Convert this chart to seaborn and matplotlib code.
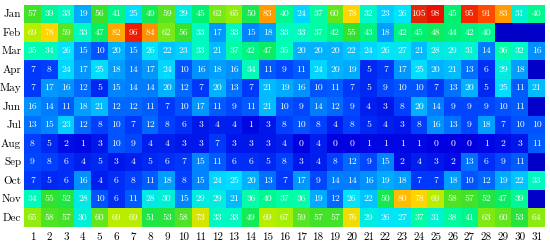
import numpy as np
import pandas as pd
import matplotlib
matplotlib.use("Agg")
import matplotlib.pyplot as plt
import seaborn as sns
from matplotlib.colors import LinearSegmentedColormap

months = ["Jan", "Feb", "Mar", "Apr", "May", "Jun", "Jul", "Aug", "Sep", "Oct", "Nov", "Dec"]
days = list(range(1, 32))
N = None  # missing day

jan = [57, 39, 33, 19, 56, 41, 25, 49, 59, 29, 45, 62, 65, 50, 83, 40, 24, 37, 60, 78, 32, 23, 26, 105, 98, 45, 95, 91, 83, 31, 40]
feb = [69, 78, 59, 33, 47, 82, 96, 84, 62, 56, 33, 17, 33, 15, 18, 33, 33, 37, 42, 55, 43, 18, 42, 45, 48, 44, 42, 40, N, N, N]
mar = [35, 34, 26, 15, 10, 20, 15, 26, 22, 23, 33, 21, 37, 42, 47, 35, 20, 20, 20, 22, 24, 26, 27, 21, 28, 29, 31, 14, 36, 32, 16]
apr = [7, 8, 24, 17, 25, 18, 14, 17, 24, 10, 16, 18, 16, 34, 11, 9, 11, 24, 20, 19, 5, 7, 17, 25, 20, 21, 13, 6, 29, 18, N]
may = [7, 17, 16, 12, 5, 15, 14, 14, 20, 12, 7, 20, 13, 7, 21, 19, 16, 10, 11, 7, 5, 9, 10, 10, 7, 13, 20, 5, 25, 11, 21]
jun = [16, 14, 11, 18, 21, 12, 12, 11, 7, 10, 17, 11, 9, 11, 21, 10, 9, 14, 12, 9, 4, 3, 8, 20, 14, 9, 9, 9, 10, 11, N]
jul = [13, 15, 23, 12, 8, 10, 7, 12, 8, 6, 3, 4, 4, 1, 3, 8, 10, 8, 4, 8, 5, 4, 3, 8, 16, 13, 9, 18, 7, 10, 10]
aug = [8, 5, 2, 1, 3, 10, 9, 4, 4, 3, 3, 7, 3, 3, 3, 4, 0, 4, 0, 0, 1, 1, 1, 1, 0, 0, 0, 1, 2, 3, 11]
sep = [9, 8, 6, 4, 5, 3, 4, 5, 6, 7, 15, 11, 6, 6, 5, 8, 3, 4, 8, 12, 9, 15, 2, 4, 3, 2, 13, 6, 9, 11, N]
oct_ = [7, 5, 6, 16, 4, 6, 8, 11, 18, 8, 15, 24, 25, 20, 13, 7, 17, 9, 14, 14, 16, 19, 18, 7, 7, 18, 10, 12, 19, 22, 33]
nov = [34, 55, 52, 28, 10, 6, 11, 28, 30, 15, 29, 29, 21, 36, 40, 37, 36, 19, 12, 26, 22, 50, 80, 78, 69, 58, 57, 52, 47, 39, N]
dec = [65, 58, 57, 30, 60, 69, 69, 51, 53, 58, 73, 33, 33, 49, 69, 67, 59, 57, 57, 76, 29, 26, 27, 37, 31, 38, 41, 63, 60, 53, 64]

rows = [jan, feb, mar, apr, may, jun, jul, aug, sep, oct_, nov, dec]
vals = np.array([[np.nan if v is None else v for v in r] for r in rows], dtype=float)
labels = np.array([["-" if v is None else str(v) for v in r] for r in rows])
df = pd.DataFrame(vals, index=months, columns=days)

vmax = 105
anchors = [(0, "#0000E0"), (8, "#0040FF"), (16, "#0090FF"), (25, "#00E0FF"),
           (35, "#00FFB0"), (45, "#00F070"), (55, "#30E030"), (68, "#B0F000"),
           (78, "#FFD800"), (84, "#FF9000"), (92, "#FF4000"), (98, "#E81000"),
           (105, "#E02808")]
cmap = LinearSegmentedColormap.from_list("custom_jet", [(v / vmax, c) for v, c in anchors])

plt.rcParams["font.family"] = ["cmr10", "DejaVu Serif"]
plt.rcParams["axes.formatter.use_mathtext"] = True

fig = plt.figure(figsize=(5.5, 2.45), dpi=100)
ax = fig.add_axes([24 / 550, 1 - 227 / 245, 521 / 550, 222 / 245])
ax.set_facecolor("#0000C8")
sns.heatmap(df, ax=ax, cmap=cmap, vmin=0, vmax=vmax, annot=labels, fmt="",
            annot_kws={"color": "white", "fontsize": 7, "family": ["cmr10", "DejaVu Serif"]},
            cbar=False, linewidths=0)
ax.tick_params(length=0, labelsize=8, pad=2)
ax.set_xticklabels(days, rotation=0)
ax.set_yticklabels(months, rotation=0)
ax.tick_params(axis="x", pad=4)
ax.set_xlabel("")
ax.set_ylabel("")
fig.savefig("out.png", dpi=100)
